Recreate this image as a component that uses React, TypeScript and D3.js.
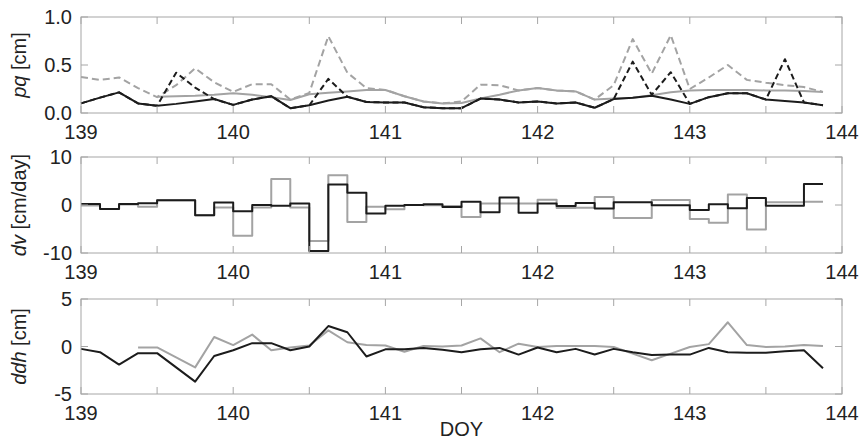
import * as d3 from "d3";

// time axis: day of year, 3-hourly
const doy = [
  139, 139.125, 139.25, 139.375, 139.5, 139.625, 139.75, 139.875,
  140, 140.125, 140.25, 140.375, 140.5, 140.625, 140.75, 140.875,
  141, 141.125, 141.25, 141.375, 141.5, 141.625, 141.75, 141.875,
  142, 142.125, 142.25, 142.375, 142.5, 142.625, 142.75, 142.875,
  143, 143.125, 143.25, 143.375, 143.5, 143.625, 143.75, 143.875,
];

const xTicks = [139, 139.5, 140, 140.5, 141, 141.5, 142, 142.5, 143, 143.5, 144];
const xLabels = [139, 140, 141, 142, 143, 144];

// pq [cm]
const pqBlack = [
  0.10, 0.16, 0.215, 0.10, 0.075, 0.095, 0.12, 0.145,
  0.085, 0.14, 0.175, 0.05, 0.08, 0.13, 0.17, 0.115,
  0.11, 0.11, 0.06, 0.05, 0.05, 0.15, 0.14, 0.11,
  0.12, 0.10, 0.11, 0.055, 0.145, 0.16, 0.18, 0.14,
  0.095, 0.165, 0.205, 0.205, 0.14, 0.125, 0.11, 0.08,
];
const pqBlackDashed = [
  0.10, 0.16, 0.215, 0.10, 0.075, 0.42, 0.265, 0.145,
  0.085, 0.14, 0.175, 0.05, 0.08, 0.355, 0.17, 0.115,
  0.11, 0.11, 0.06, 0.05, 0.05, 0.15, 0.14, 0.11,
  0.12, 0.10, 0.11, 0.055, 0.145, 0.535, 0.19, 0.425,
  0.095, 0.165, 0.205, 0.205, 0.14, 0.56, 0.11, 0.08,
];
const pqGray = [
  null, null, null, null, 0.17, 0.175, 0.18, 0.19,
  0.205, 0.19, 0.165, 0.135, 0.195, 0.21, 0.225, 0.24,
  0.24, 0.175, 0.12, 0.10, 0.105, 0.15, 0.19, 0.235,
  0.26, 0.235, 0.225, 0.14, 0.15, 0.16, 0.185, 0.215,
  0.235, 0.24, 0.24, 0.24, 0.235, 0.235, 0.23, 0.22,
];
const pqGrayDashed = [
  0.375, 0.345, 0.37, 0.26, 0.165, 0.29, 0.465, 0.32,
  0.22, 0.30, 0.30, 0.14, 0.21, 0.80, 0.42, 0.26,
  0.24, 0.175, 0.12, 0.10, 0.12, 0.295, 0.29, 0.235,
  0.26, 0.235, 0.225, 0.14, 0.29, 0.77, 0.41, 0.81,
  0.25, 0.37, 0.50, 0.345, 0.315, 0.29, 0.27, 0.22,
];

// dv [cm/day], stairs
const dvBlack = [
  0.2, -0.85, 0.2, 0.35, 1.0, 1.0, -2.15, 0.5,
  -1.3, 0.0, -0.15, 0.3, -9.6, 4.25, 2.55, -1.75,
  -0.15, 0.0, 0.15, -0.4, 0.7, -1.5, 1.55, -1.6,
  0.3, -0.2, 0.4, -0.75, 0.55, 0.55, -0.05, -0.05,
  -1.05, 0.15, -0.7, 1.45, -0.15, -0.15, 4.4, 4.4,
];
const dvGray = [
  -0.1, -0.85, 0.1, -0.35, 1.0, 1.0, -2.15, -0.5,
  -6.4, -0.5, 5.4, -0.5, -7.5, 6.2, -3.55, -0.35,
  -0.9, 0.0, -0.05, -0.2, -2.5, 0.3, 0.3, 0.3,
  1.1, -0.6, -0.55, 1.65, -2.7, -2.7, 1.05, 1.05,
  -2.9, -3.7, 2.2, -5.1, 0.55, 0.55, 0.7, 0.7,
];

// ddh [cm]
const ddhBlack = [
  -0.25, -0.6, -1.9, -0.7, -0.7, -2.2, -3.7, -1.0,
  -0.4, 0.35, 0.35, -0.4, 0.0, 2.15, 1.5, -1.05,
  -0.3, -0.3, -0.15, -0.35, -0.6, -0.3, -0.15, -0.85,
  -0.1, -0.6, -0.25, -0.85, -0.25, -0.6, -0.9, -0.85,
  -0.85, -0.15, -0.6, -0.65, -0.65, -0.5, -0.4, -2.3,
];
const ddhGray = [
  null, null, null, -0.1, -0.1, -1.15, -2.2, 1.0,
  0.15, 1.25, -0.4, -0.1, 0.1, 1.7, 0.45, 0.15,
  0.1, -0.55, 0.05, 0.0, 0.1, 0.85, -0.6, 0.3,
  -0.05, 0.05, 0.05, 0.05, -0.05, -0.75, -1.45, -0.75,
  -0.05, 0.25, 2.55, 0.15, -0.05, 0.0, 0.15, 0.05,
];

const FONT = "'Liberation Sans', Arial, sans-serif";
const TEXT = "#222";
const AXIS = "#a6a6a6";
const BLACK = "#1c1c1c";
const GRAY = "#a3a3a3";

const left = 81;
const right = 842;
const x = d3.scaleLinear().domain([139, 144]).range([left, right]);

type Series = { values: (number | null)[]; color: string; width: number; dash?: string };

const Panel = ({ top, bottom, domain, yTicks, yLabels, italic, unit, series, step, showX }: {
  top: number; bottom: number; domain: [number, number]; yTicks: number[]; yLabels: string[];
  italic: string; unit: string; series: Series[]; step?: boolean; showX?: boolean;
}) => {
  const y = d3.scaleLinear().domain(domain).range([bottom, top]);
  const tickLen = 7;
  const mid = (top + bottom) / 2;
  return (
    <g>
      {series.map((s, i) => {
        const line = d3.line<number>()
          .defined((_, j) => s.values[j] != null)
          .x((_, j) => x(doy[j]))
          .y((_, j) => y(s.values[j] as number))
          .curve(step ? d3.curveStepAfter : d3.curveLinear);
        return (
          <path key={i} d={line(doy) || ""} fill="none" stroke={s.color} strokeWidth={s.width}
            strokeDasharray={s.dash} strokeLinejoin="round" />
        );
      })}
      <rect x={left} y={top} width={right - left} height={bottom - top} fill="none" stroke={AXIS} strokeWidth={1} />
      {xTicks.map((t) => (
        <g key={t}>
          <line x1={x(t)} x2={x(t)} y1={bottom} y2={bottom - tickLen} stroke={AXIS} />
          <line x1={x(t)} x2={x(t)} y1={top} y2={top + tickLen} stroke={AXIS} />
        </g>
      ))}
      {yTicks.map((t, i) => (
        <g key={t}>
          <line x1={left} x2={left + tickLen} y1={y(t)} y2={y(t)} stroke={AXIS} />
          <line x1={right} x2={right - tickLen} y1={y(t)} y2={y(t)} stroke={AXIS} />
          <text x={72} y={y(t)} dy="0.36em" textAnchor="end" fontSize={20} fill={TEXT}>{yLabels[i]}</text>
        </g>
      ))}
      {xLabels.map((t) => (
        <text key={t} x={x(t)} y={bottom + 26} textAnchor="middle" fontSize={20} fill={TEXT}>{t}</text>
      ))}
      <text transform={`translate(26,${mid}) rotate(-90)`} textAnchor="middle" fontSize={20} fill={TEXT}>
        <tspan fontStyle="italic">{italic}</tspan>
        <tspan>{` ${unit}`}</tspan>
      </text>
      {showX && (
        <text x={(left + right) / 2} y={436} textAnchor="middle" fontSize={20} fill={TEXT}>DOY</text>
      )}
    </g>
  );
};

export default function App() {
  return (
    <svg width={859} height={441} style={{ position: "absolute", left: 0, top: 0, background: "#fff" }}
      fontFamily={FONT}>
      <rect width={859} height={441} fill="#fff" />
      <Panel top={17} bottom={113} domain={[0, 1]} yTicks={[0, 0.5, 1]} yLabels={["0.0", "0.5", "1.0"]}
        italic="pq" unit="[cm]"
        series={[
          { values: pqGrayDashed, color: GRAY, width: 2, dash: "7,4" },
          { values: pqGray, color: GRAY, width: 2 },
          { values: pqBlackDashed, color: BLACK, width: 2, dash: "6,3.5" },
          { values: pqBlack, color: BLACK, width: 2 },
        ]} />
      <Panel top={157} bottom={253} domain={[-10, 10]} yTicks={[-10, 0, 10]} yLabels={["-10", "0", "10"]}
        italic="dv" unit="[cm/day]" step
        series={[
          { values: dvGray, color: GRAY, width: 2 },
          { values: dvBlack, color: BLACK, width: 2 },
        ]} />
      <Panel top={299} bottom={394} domain={[-5, 5]} yTicks={[-5, 0, 5]} yLabels={["-5", "0", "5"]}
        italic="ddh" unit="[cm]" showX
        series={[
          { values: ddhGray, color: GRAY, width: 2 },
          { values: ddhBlack, color: BLACK, width: 2 },
        ]} />
    </svg>
  );
}
